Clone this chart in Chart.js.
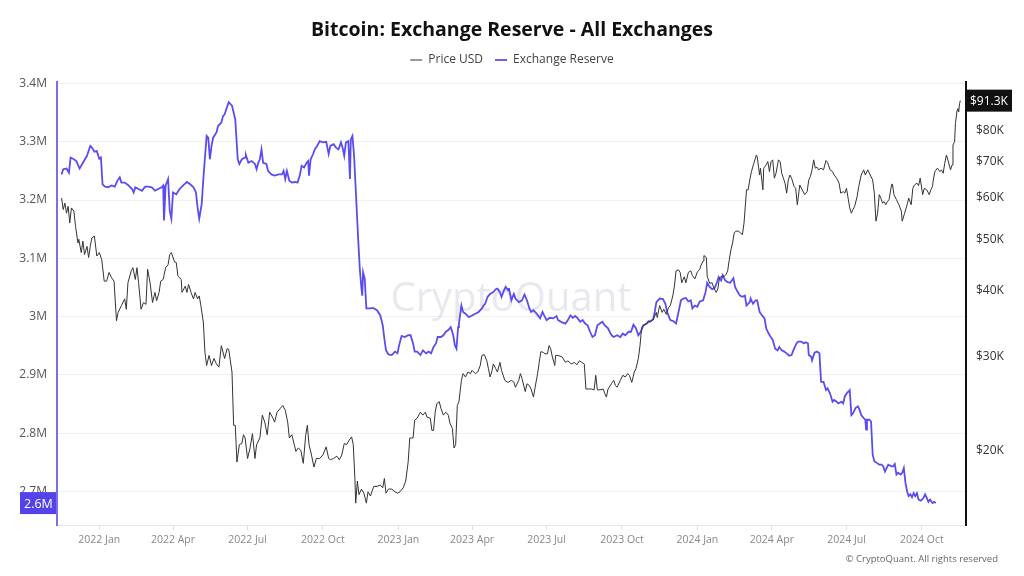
<!DOCTYPE html>
<html>
<head>
<meta charset="utf-8">
<script src="https://cdn.jsdelivr.net/npm/chart.js@4.4.1/dist/chart.umd.min.js"></script>
<style>
html,body{margin:0;padding:0;background:#fff;}
canvas{display:block;}
</style>
</head>
<body>
<canvas id="c" width="1024" height="576"></canvas>
<script>
// ---- DATA (x = days since 2022-01-01) ----
const reserveDays = [
-46,-44,-40,-37,-35,-32,-28,-24,-20,-15,-11,-9,-6,-3,0,2,4,7,11,15,19,22,25,27,31,35,40,42,44,48,52,56,60,64,68,72,76,78,79,81,84,86,88,90,94,98,103,107,111,115,118,120,122,125,127,129,131,133,135,137,139,143,145,149,151,153,155,158,162,164,166,169,171,174,178,
179,182,186,190,192,194,196,198,200,204,206,210,214,219,223,225,227,229,232,235,239,242,245,247,250,253,255,256,258,261,263,266,269,273,277,280,282,286,289,292,295,297,299,301,304,306,307,309,311,313,316,318,320,321,322,324,326,331,334,339,343,346,348,350,353,357,361,364,366,369,373,377,380,383,385,388,392,395,399,
402,405,408,411,413,417,420,423,426,429,432,434,436,438,439,442,444,447,451,455,459,463,467,469,471,474,477,481,484,486,489,491,494,496,499,500,503,506,508,512,516,519,522,525,527,530,534,538,541,543,546,550,554,558,560,565,569,572,575,578,581,584,587,590,593,596,599,602,605,608,611,614,617,621,624,626,
628,632,636,639,642,646,649,652,655,658,661,664,668,672,676,678,680,684,688,691,693,697,701,704,707,710,713,716,719,722,724,727,730,733,737,740,742,745,748,751,754,756,759,761,764,767,770,772,774,776,779,782,785,788,790,794,795,798,801,803,806,809,812,814,817,820,822,825,828,830,833,836,839,842,845,848,851,853,
857,860,862,865,866,869,870,873,876,879,881,884,887,889,892,895,897,900,902,906,908,910,912,914,916,918,920,922,923,926,928,930,933,935,936,937,940,942,944,946,949,952,955,957,959,961,963,967,969,971,973,975,978,980,982,984,986,988,990,992,994,996,998,1000,1003,1006,1008,1010,1012,1014,1017,1019,1021
];
const reserveMillionBTC = [
3.244,3.253,3.254,3.247,3.273,3.271,3.267,3.254,3.264,3.276,3.293,3.290,3.283,3.284,3.271,3.273,3.227,3.223,3.222,3.225,3.223,3.233,3.239,3.230,3.230,3.226,3.219,3.213,3.222,3.219,3.216,3.223,3.223,3.222,3.216,3.219,3.222,3.225,3.165,3.225,3.236,3.182,3.168,3.213,3.210,3.219,3.226,3.231,3.227,3.222,3.213,3.187,3.168,3.193,3.236,3.273,3.310,3.307,3.270,3.293,3.307,3.316,3.327,3.333,3.344,3.347,3.356,3.368,3.362,3.350,3.338,3.270,3.262,3.270,3.273,
3.277,3.264,3.267,3.262,3.253,3.264,3.270,3.287,3.264,3.262,3.250,3.244,3.242,3.244,3.244,3.250,3.236,3.250,3.233,3.230,3.231,3.230,3.244,3.259,3.256,3.264,3.267,3.242,3.270,3.279,3.287,3.293,3.301,3.299,3.300,3.279,3.293,3.296,3.290,3.287,3.299,3.290,3.276,3.299,3.301,3.236,3.304,3.310,3.276,3.219,3.133,3.082,3.048,3.036,3.076,3.065,3.014,3.014,3.015,3.011,3.002,2.985,2.962,2.942,2.935,2.934,2.940,2.937,2.951,2.967,2.965,2.968,2.968,2.954,2.940,2.940,2.934,2.942,2.937,
2.940,2.937,2.948,2.954,2.965,2.965,2.968,2.974,2.977,2.982,2.968,2.951,2.945,2.982,2.988,3.019,3.008,3.005,2.999,3.002,3.005,3.008,3.014,3.019,3.022,3.034,3.039,3.042,3.047,3.048,3.042,3.034,3.045,3.051,3.045,3.049,3.028,3.039,3.031,3.025,3.028,3.038,3.028,3.014,3.008,3.011,3.005,2.997,3.008,3.002,2.994,2.998,2.997,3.001,2.994,2.990,2.988,2.994,3.002,2.998,3.001,2.997,2.991,2.994,2.988,2.985,2.974,2.965,2.968,2.985,2.988,2.991,2.985,2.980,2.971,2.967,
2.965,2.968,2.965,2.971,2.968,2.974,2.974,2.986,2.980,2.968,2.974,2.985,2.988,2.992,2.995,3.008,3.025,3.031,3.030,3.022,3.008,2.994,2.992,2.988,3.008,3.028,3.031,3.032,3.026,3.028,3.014,3.019,3.017,3.026,3.028,3.042,3.058,3.051,3.047,3.049,3.059,3.068,3.062,3.071,3.062,3.059,3.058,3.062,3.066,3.051,3.043,3.036,3.034,3.036,3.019,3.025,3.031,3.022,3.028,3.028,3.008,3.002,2.997,2.980,2.971,2.964,2.960,2.945,2.942,2.948,2.942,2.940,2.937,2.933,2.934,2.945,2.954,2.957,
2.957,2.954,2.956,2.954,2.934,2.931,2.925,2.938,2.940,2.937,2.888,2.888,2.874,2.877,2.868,2.854,2.857,2.854,2.851,2.854,2.851,2.863,2.868,2.871,2.874,2.831,2.834,2.840,2.843,2.846,2.840,2.831,2.826,2.823,2.806,2.823,2.823,2.820,2.763,2.752,2.749,2.746,2.746,2.743,2.734,2.740,2.746,2.743,2.743,2.747,2.729,2.732,2.729,2.732,2.740,2.715,2.700,2.692,2.695,2.690,2.697,2.692,2.697,2.686,2.684,2.689,2.695,2.689,2.682,2.686,2.680,2.682,2.680
];
const priceDays = [
-46,-44,-42,-40,-38,-36,-34,-31,-29,-26,-25,-22,-20,-18,-15,-13,-11,-9,-6,-3,0,3,6,9,12,15,18,21,23,27,31,33,35,39,41,44,46,48,51,54,57,59,62,65,68,70,73,75,78,81,84,86,88,92,94,96,100,101,105,107,109,112,115,117,120,122,124,127,129,131,134,137,140,143,146,149,153,156,158,162,164,166,168,171,174,176,178,
181,184,187,190,192,196,199,202,205,208,212,214,217,221,224,227,230,232,235,238,240,243,246,249,252,254,256,259,262,265,269,273,277,280,282,286,290,293,296,299,302,305,308,310,312,313,315,317,320,323,326,328,331,335,339,343,346,348,350,353,357,361,364,367,371,374,377,379,381,383,385,388,392,395,398,400,404,
406,408,410,412,415,417,420,423,426,428,431,433,435,437,439,442,444,447,450,453,455,459,462,465,467,470,473,475,477,479,481,484,486,489,491,495,499,503,506,508,512,514,516,520,522,525,527,530,532,535,537,539,542,544,547,549,551,553,556,557,560,565,569,572,576,580,583,586,589,592,594,597,601,604,606,608,611,615,617,619,621,625,628,
630,632,636,639,642,645,647,650,653,655,658,660,662,664,668,670,673,676,680,681,684,687,689,692,695,697,700,702,704,707,709,711,714,716,719,722,724,727,730,733,734,737,738,741,742,745,748,750,753,755,757,760,763,765,767,769,771,773,775,777,780,783,785,787,790,792,794,796,799,802,803,806,807,810,811,814,816,818,820,822,824,826,829,831,833,835,837,839,841,843,845,848,850,852,854,
855,858,861,864,866,868,870,872,874,876,878,881,884,887,889,892,895,897,900,903,905,908,910,912,914,916,918,920,922,925,927,930,933,935,938,941,944,946,948,950,952,954,956,958,960,962,964,967,968,970,973,976,979,980,983,986,988,991,993,995,998,1000,1002,1005,1007,1010,1013,1015,1017,1018,1020,1023,1026,1028,1030,1032,1034,1036,1039,1041,1042,1044,1045,1047,1048,1049,1050,1051
];
const priceThousandUSD = [
59.8,56.9,58.5,56.0,57.7,53.7,57.3,56.5,52.9,49.2,50.0,47.2,49.6,46.8,48.5,46.2,48.5,50.3,50.7,46.5,47.2,45.8,41.7,41.7,43.3,42.3,41.7,35.1,36.4,37.5,38.6,36.9,41.4,43.6,44.2,42.0,44.2,41.4,36.9,38.0,37.7,43.9,41.4,38.0,39.7,38.3,39.7,41.7,42.0,44.2,44.8,46.8,47.2,45.3,45.2,42.6,42.0,39.7,40.8,39.7,41.1,39.7,38.6,39.7,38.6,39.1,37.5,34.9,30.6,28.9,30.2,28.9,29.8,29.1,28.7,31.5,29.8,31.1,31.0,28.1,22.3,22.3,19.0,20.5,20.6,21.4,21.1,
19.3,20.2,21.5,19.3,20.5,21.1,23.3,22.6,21.4,23.6,23.0,22.6,23.6,24.0,24.3,23.8,22.6,21.1,21.4,20.5,19.9,20.2,20.0,18.9,21.4,22.3,20.5,19.6,18.6,19.3,19.3,19.6,20.3,19.3,19.2,19.3,19.5,19.2,19.6,20.6,20.5,20.9,21.2,20.5,17.7,15.9,17.5,16.5,16.9,16.6,15.9,16.7,16.4,17.1,17.1,17.2,17.0,17.7,16.6,16.9,16.9,16.7,16.6,16.7,17.0,17.5,19.0,21.1,21.1,21.1,22.8,23.0,23.6,23.3,23.6,23.1,23.0,
21.8,21.8,23.6,24.5,24.7,24.0,23.3,23.6,23.3,22.5,22.0,20.2,20.5,24.3,24.7,27.1,27.9,27.5,28.1,27.9,28.3,27.9,28.1,28.9,30.2,30.3,29.5,28.5,27.5,28.1,29.1,28.5,28.1,29.3,28.3,27.1,26.85,27.1,26.9,26.3,27.1,27.9,27.3,25.8,26.7,26.5,26.1,25.2,26.3,27.9,29.3,30.7,30.6,30.4,30.4,31.5,31.1,30.0,28.9,30.2,30.2,30.0,29.3,29.5,29.1,29.3,29.0,29.5,29.3,29.1,26.1,26.1,26.1,26.0,27.7,26.0,26.0,26.1,25.6,25.2,26.1,26.7,27.1,
26.5,26.3,27.1,27.7,27.5,27.9,27.7,26.85,28.1,28.5,29.8,31.5,34.1,34.4,34.6,35.1,34.9,35.3,36.4,35.6,37.5,36.4,36.9,36.1,37.2,37.5,39.1,40.8,43.6,43.8,43.3,41.4,42.5,41.4,43.3,43.6,42.7,42.1,43.4,43.9,44.5,45.5,46.6,46.2,42.6,41.3,41.4,40.5,39.7,40.3,42.3,42.6,42.6,42.9,43.6,45.8,47.8,49.2,51.4,51.8,51.8,51.4,51.0,53.7,62.0,62.0,64.7,67.1,69.6,72.1,71.6,66.1,68.1,62.0,68.1,69.1,70.1,67.1,70.1,70.6,65.2,66.6,70.6,70.1,66.6,65.2,63.8,61.1,64.7,66.1,65.2,62.9,62.4,58.1,61.5,
63.3,62.0,60.7,61.5,64.7,65.7,67.6,70.6,68.1,68.4,67.6,68.1,67.6,70.4,69.8,67.6,67.1,66.1,65.2,63.8,61.1,61.5,61.1,62.4,59.8,57.3,56.0,56.9,57.7,60.2,62.9,66.1,67.6,66.1,67.6,66.1,64.7,61.1,54.1,56.0,60.7,59.8,58.5,58.9,58.1,58.9,59.4,63.3,63.6,60.7,59.4,58.1,56.5,54.1,56.0,58.1,59.8,58.1,62.4,63.3,63.8,63.1,65.2,60.7,62.4,62.0,60.7,62.0,62.9,64.7,67.1,68.1,67.1,67.6,66.6,69.6,72.1,70.4,67.6,69.1,75.3,76.4,82.7,87.6,88.2,86.9,90.1,91.3
];
const xTickDays = [0, 90, 181, 273, 365, 455, 546, 638, 730, 821, 912, 1004];
const xTickLabels = ['2022 Jan','2022 Apr','2022 Jul','2022 Oct','2023 Jan','2023 Apr','2023 Jul','2023 Oct','2024 Jan','2024 Apr','2024 Jul','2024 Oct'];
const reserveTicks = [2700000, 2800000, 2900000, 3000000, 3100000, 3200000, 3300000, 3400000];
const priceTicks = [20000, 30000, 40000, 50000, 60000, 70000, 80000];
const seriesNames = ['Price USD', 'Exchange Reserve'];

// ---- CHART ----
const FONT = "'Open Sans', sans-serif";
Chart.defaults.font.family = FONT;

const priceData = priceDays.map((d, i) => ({ x: d, y: priceThousandUSD[i] * 1000 }));
const reserveData = reserveDays.map((d, i) => ({ x: d, y: reserveMillionBTC[i] * 1e6 }));

const PURPLE = '#5b4cf2';
const BADGE_PURPLE = '#5443ea';

const legendSpacer = {
  id: 'legendSpacer',
  beforeInit(chart) {
    const orig = chart.legend.fit;
    chart.legend.fit = function () { orig.call(this); this.height += 6; };
  }
};

const watermark = {
  id: 'watermark',
  beforeDatasetsDraw(chart) {
    const { ctx, chartArea } = chart;
    ctx.save();
    ctx.font = "40px " + FONT;
    ctx.fillStyle = 'rgba(150,150,180,0.22)';
    ctx.textAlign = 'center';
    ctx.textBaseline = 'middle';
    ctx.fillText('CryptoQuant', 511, (chartArea.top + chartArea.bottom) / 2 - 4);
    ctx.restore();
  }
};

const badges = {
  id: 'badges',
  afterDraw(chart) {
    const { ctx, chartArea } = chart;
    const yP = chart.scales.yP, yR = chart.scales.yR;
    const lastP = priceData[priceData.length - 1].y;
    const lastR = reserveData[reserveData.length - 1].y;
    ctx.save();
    let y = yP.getPixelForValue(lastP);
    ctx.fillStyle = '#111';
    ctx.fillRect(chartArea.right + 1, y - 11, 45, 22);
    ctx.fillStyle = '#fff';
    ctx.font = "12px " + FONT;
    ctx.textAlign = 'left';
    ctx.textBaseline = 'middle';
    ctx.fillText('$' + (lastP / 1000).toFixed(1) + 'K', chartArea.right + 4, y + 1);
    y = yR.getPixelForValue(lastR);
    ctx.fillStyle = BADGE_PURPLE;
    ctx.fillRect(20, y - 11, chartArea.left - 21, 22);
    ctx.fillStyle = '#fff';
    ctx.font = "12.5px " + FONT;
    ctx.textAlign = 'left';
    ctx.fillText((Math.floor(lastR / 1e5) / 10) + 'M', 24, y + 1);
    ctx.fillStyle = '#666';
    ctx.font = "9.5px " + FONT;
    ctx.textAlign = 'right';
    ctx.fillText('\u00A9 CryptoQuant. All rights reserved', 998, 559);
    ctx.restore();
  }
};

new Chart(document.getElementById('c'), {
  type: 'line',
  data: {
    datasets: [
      { label: seriesNames[0], data: priceData, yAxisID: 'yP', borderColor: '#333', backgroundColor: '#333', borderWidth: 1, pointRadius: 0, tension: 0 },
      { label: seriesNames[1], data: reserveData, yAxisID: 'yR', borderColor: PURPLE, backgroundColor: PURPLE, borderWidth: 1.8, pointRadius: 0, tension: 0 }
    ]
  },
  options: {
    responsive: false,
    animation: false,
    devicePixelRatio: 1,
    layout: { padding: 0 },
    plugins: {
      title: {
        display: true,
        text: 'Bitcoin: Exchange Reserve - All Exchanges',
        color: '#111',
        font: { size: 19.5, weight: 'bold' },
        padding: { top: 18.3, bottom: 0.3 }
      },
      legend: {
        display: true,
        labels: {
          usePointStyle: true,
          pointStyle: 'line',
          pointStyleWidth: 12,
          color: '#444',
          font: { size: 12 },
          padding: 12,
          sort: (a, b) => a.datasetIndex - b.datasetIndex
        }
      },
      tooltip: { enabled: false }
    },
    scales: {
      x: {
        type: 'linear',
        min: -51.6,
        max: 1057.9,
        afterFit(s) { s.height = 51; },
        afterBuildTicks(s) { s.ticks = xTickDays.map(v => ({ value: v })); },
        ticks: {
          autoSkip: false, maxRotation: 0, padding: 4, color: '#888', font: { size: 10.5 },
          callback: (v, i) => xTickLabels[i]
        },
        grid: { drawOnChartArea: false, drawTicks: true, tickLength: 5, color: '#ddd' },
        border: { color: '#e6e6e6', width: 1 }
      },
      yR: {
        type: 'linear',
        position: 'left',
        min: 2642400,
        max: 3402600,
        afterFit(s) { s.width = 57; },
        afterBuildTicks(s) { s.ticks = reserveTicks.map(v => ({ value: v })); },
        ticks: { padding: 10, color: '#555', font: { size: 12 }, callback: v => (v / 1e6) + 'M' },
        grid: { color: '#f0f0f0', drawTicks: false },
        border: { color: '#7b6cf2', width: 2 }
      },
      yP: {
        type: 'logarithmic',
        position: 'right',
        min: 14460,
        max: 99000,
        afterFit(s) { s.width = 58; },
        afterBuildTicks(s) { s.ticks = priceTicks.map(v => ({ value: v })); },
        ticks: { padding: 10, color: '#333', font: { size: 12 }, callback: v => '$' + (v / 1000) + 'K' },
        grid: { display: false, drawTicks: false },
        border: { color: '#111', width: 2 }
      }
    }
  },
  plugins: [legendSpacer, watermark, badges]
});
</script>
</body>
</html>
